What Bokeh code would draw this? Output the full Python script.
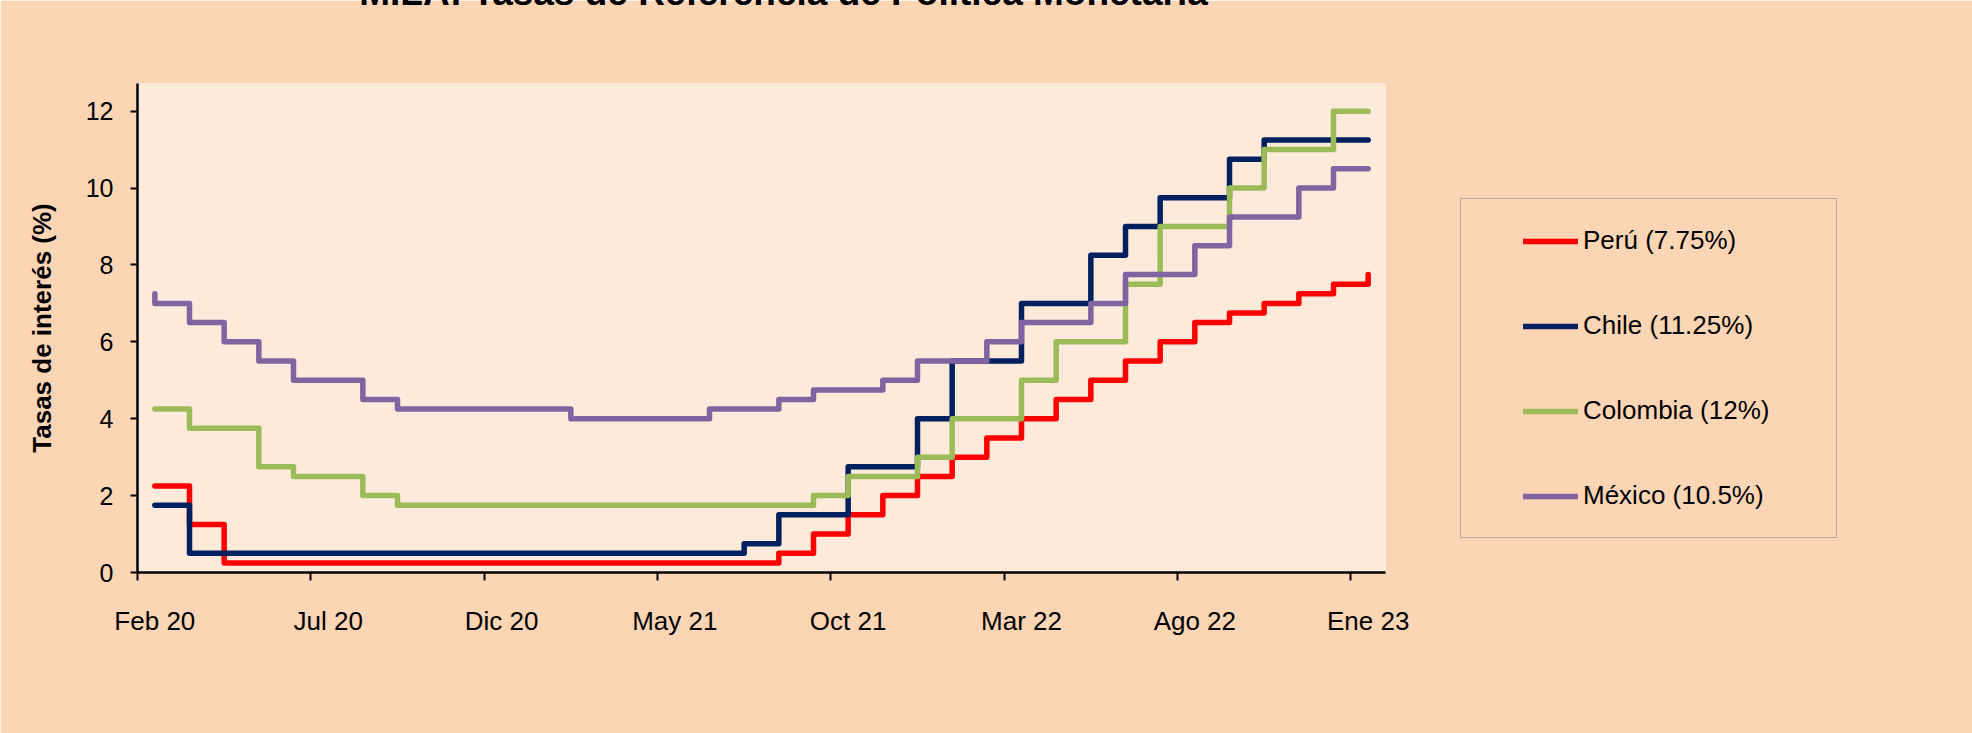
import numpy as np
from bokeh.plotting import figure
from bokeh.models import (Range1d, FixedTicker, Legend, LegendItem, Label)
from bokeh.embed import file_html
from bokeh.resources import INLINE

# ---------------- data ----------------
months = ["Feb 20", "Mar 20", "Abr 20", "May 20", "Jun 20", "Jul 20", "Ago 20", "Sep 20",
          "Oct 20", "Nov 20", "Dic 20", "Ene 21", "Feb 21", "Mar 21", "Abr 21", "May 21",
          "Jun 21", "Jul 21", "Ago 21", "Sep 21", "Oct 21", "Nov 21", "Dic 21", "Ene 22",
          "Feb 22", "Mar 22", "Abr 22", "May 22", "Jun 22", "Jul 22", "Ago 22", "Sep 22",
          "Oct 22", "Nov 22", "Dic 22", "Ene 23"]
tick_labels = ["Feb 20", "Jul 20", "Dic 20", "May 21", "Oct 21", "Mar 22", "Ago 22", "Ene 23"]
y_ticks = [0, 2, 4, 6, 8, 10, 12]

series_names = ["Perú", "Chile", "Colombia", "México"]
# value at Ene 20 (previous month), used for the first step
prev_ene20 = [2.25, 1.75, 4.25, 7.25]

peru = [2.25, 1.25, 0.25, 0.25, 0.25, 0.25, 0.25, 0.25, 0.25, 0.25, 0.25, 0.25,
        0.25, 0.25, 0.25, 0.25, 0.25, 0.25, 0.5, 1.0, 1.5, 2.0, 2.5, 3.0,
        3.5, 4.0, 4.5, 5.0, 5.5, 6.0, 6.5, 6.75, 7.0, 7.25, 7.5, 7.75]
chile = [1.75, 0.5, 0.5, 0.5, 0.5, 0.5, 0.5, 0.5, 0.5, 0.5, 0.5, 0.5,
         0.5, 0.5, 0.5, 0.5, 0.5, 0.75, 1.5, 1.5, 2.75, 2.75, 4.0, 5.5,
         5.5, 7.0, 7.0, 8.25, 9.0, 9.75, 9.75, 10.75, 11.25, 11.25, 11.25, 11.25]
colombia = [4.25, 3.75, 3.75, 2.75, 2.5, 2.5, 2.0, 1.75, 1.75, 1.75, 1.75, 1.75,
            1.75, 1.75, 1.75, 1.75, 1.75, 1.75, 1.75, 2.0, 2.5, 2.5, 3.0, 4.0,
            4.0, 5.0, 6.0, 6.0, 7.5, 9.0, 9.0, 10.0, 11.0, 11.0, 12.0, 12.0]
mexico = [7.0, 6.5, 6.0, 5.5, 5.0, 5.0, 4.5, 4.25, 4.25, 4.25, 4.25, 4.25,
          4.0, 4.0, 4.0, 4.0, 4.25, 4.25, 4.5, 4.75, 4.75, 5.0, 5.5, 5.5,
          6.0, 6.5, 6.5, 7.0, 7.75, 7.75, 8.5, 9.25, 9.25, 10.0, 10.5, 10.5]

colors = ["#FF0000", "#002060", "#9BBB59", "#8064A2"]
FONT = "Liberation Sans"

# ---------------- figure ----------------
n = len(months)
p = figure(frame_width=1248, frame_height=489,
           min_border_left=137, min_border_right=587,
           min_border_top=83, min_border_bottom=161,
           x_range=Range1d(0, n), y_range=Range1d(0, 12.72),
           output_backend="svg", toolbar_location=None)
p.background_fill_color = "#FDEADA"
p.border_fill_color = "#FCD5B5"
p.outline_line_color = None
p.xgrid.grid_line_color = None
p.ygrid.grid_line_color = None

xc = np.arange(n) + 0.5  # month centres
all_vals = [peru, chile, colombia, mexico]
items = []
for name, prev, vals, col in zip(series_names, prev_ene20, all_vals, colors):
    xs = np.concatenate([[xc[0]], xc])
    ys = np.concatenate([[prev], vals])
    r = p.step(xs, ys, mode="after", line_color=col, line_width=5.5,
               line_join="round", line_cap="round")
    items.append(LegendItem(label=f"{name} ({vals[-1]:g}%)", renderers=[r]))

# x axis: labels centred on month, tick marks at month starts
lab_pos = [months.index(t) + 0.5 for t in tick_labels]
tick_pos = [months.index(t) for t in tick_labels]
xa = p.xaxis[0]
xa.ticker = FixedTicker(ticks=lab_pos, minor_ticks=tick_pos)
xa.major_label_overrides = {pos: lbl for pos, lbl in zip(lab_pos, tick_labels)}
xa.major_tick_line_color = None
xa.major_tick_out = 0
xa.major_tick_in = 0
xa.minor_tick_line_color = "black"
xa.minor_tick_line_width = 2
xa.minor_tick_out = 8
xa.minor_tick_in = 0
xa.major_label_standoff = 25
xa.axis_line_color = "black"
xa.axis_line_width = 2.5
xa.major_label_text_font = FONT
xa.major_label_text_font_size = "26px"
xa.major_label_text_color = "black"

ya = p.yaxis[0]
ya.ticker = FixedTicker(ticks=y_ticks)
ya.minor_tick_line_color = None
ya.major_tick_line_color = "black"
ya.major_tick_line_width = 2
ya.major_tick_out = 7
ya.major_tick_in = 0
ya.major_label_standoff = 17
ya.axis_line_color = "black"
ya.axis_line_width = 2.5
ya.major_label_text_font = FONT
ya.major_label_text_font_size = "25px"
ya.major_label_text_color = "black"
ya.axis_label = "Tasas de interés (%)"
ya.axis_label_text_font = FONT
ya.axis_label_text_font_size = "26px"
ya.axis_label_text_font_style = "bold"
ya.axis_label_text_color = "black"
ya.axis_label_standoff = 26

# legend (in the right-hand panel), with its own frame
legend = Legend(items=items, location=(75, 34),
                label_text_font=FONT, label_text_font_size="26px",
                label_text_color="black",
                glyph_width=55, glyph_height=30, label_height=30,
                label_standoff=5, spacing=54, margin=0,
                padding=(62, 26), label_width=191,
                border_line_color="#7F7F7F", border_line_width=1.5,
                background_fill_alpha=0)
p.add_layout(legend, "right")

# title, mostly above the top edge as in the reference (only its foot shows)
title = Label(x=646, y=91, x_units="screen", y_units="screen",
              text="MILA: Tasas de Referencia de Política Monetaria",
              text_align="center", text_baseline="alphabetic",
              text_font=FONT, text_font_size="37px", text_font_style="bold",
              text_color="black")
p.add_layout(title, "above")

open("out.html", "w").write(file_html(p, INLINE))
